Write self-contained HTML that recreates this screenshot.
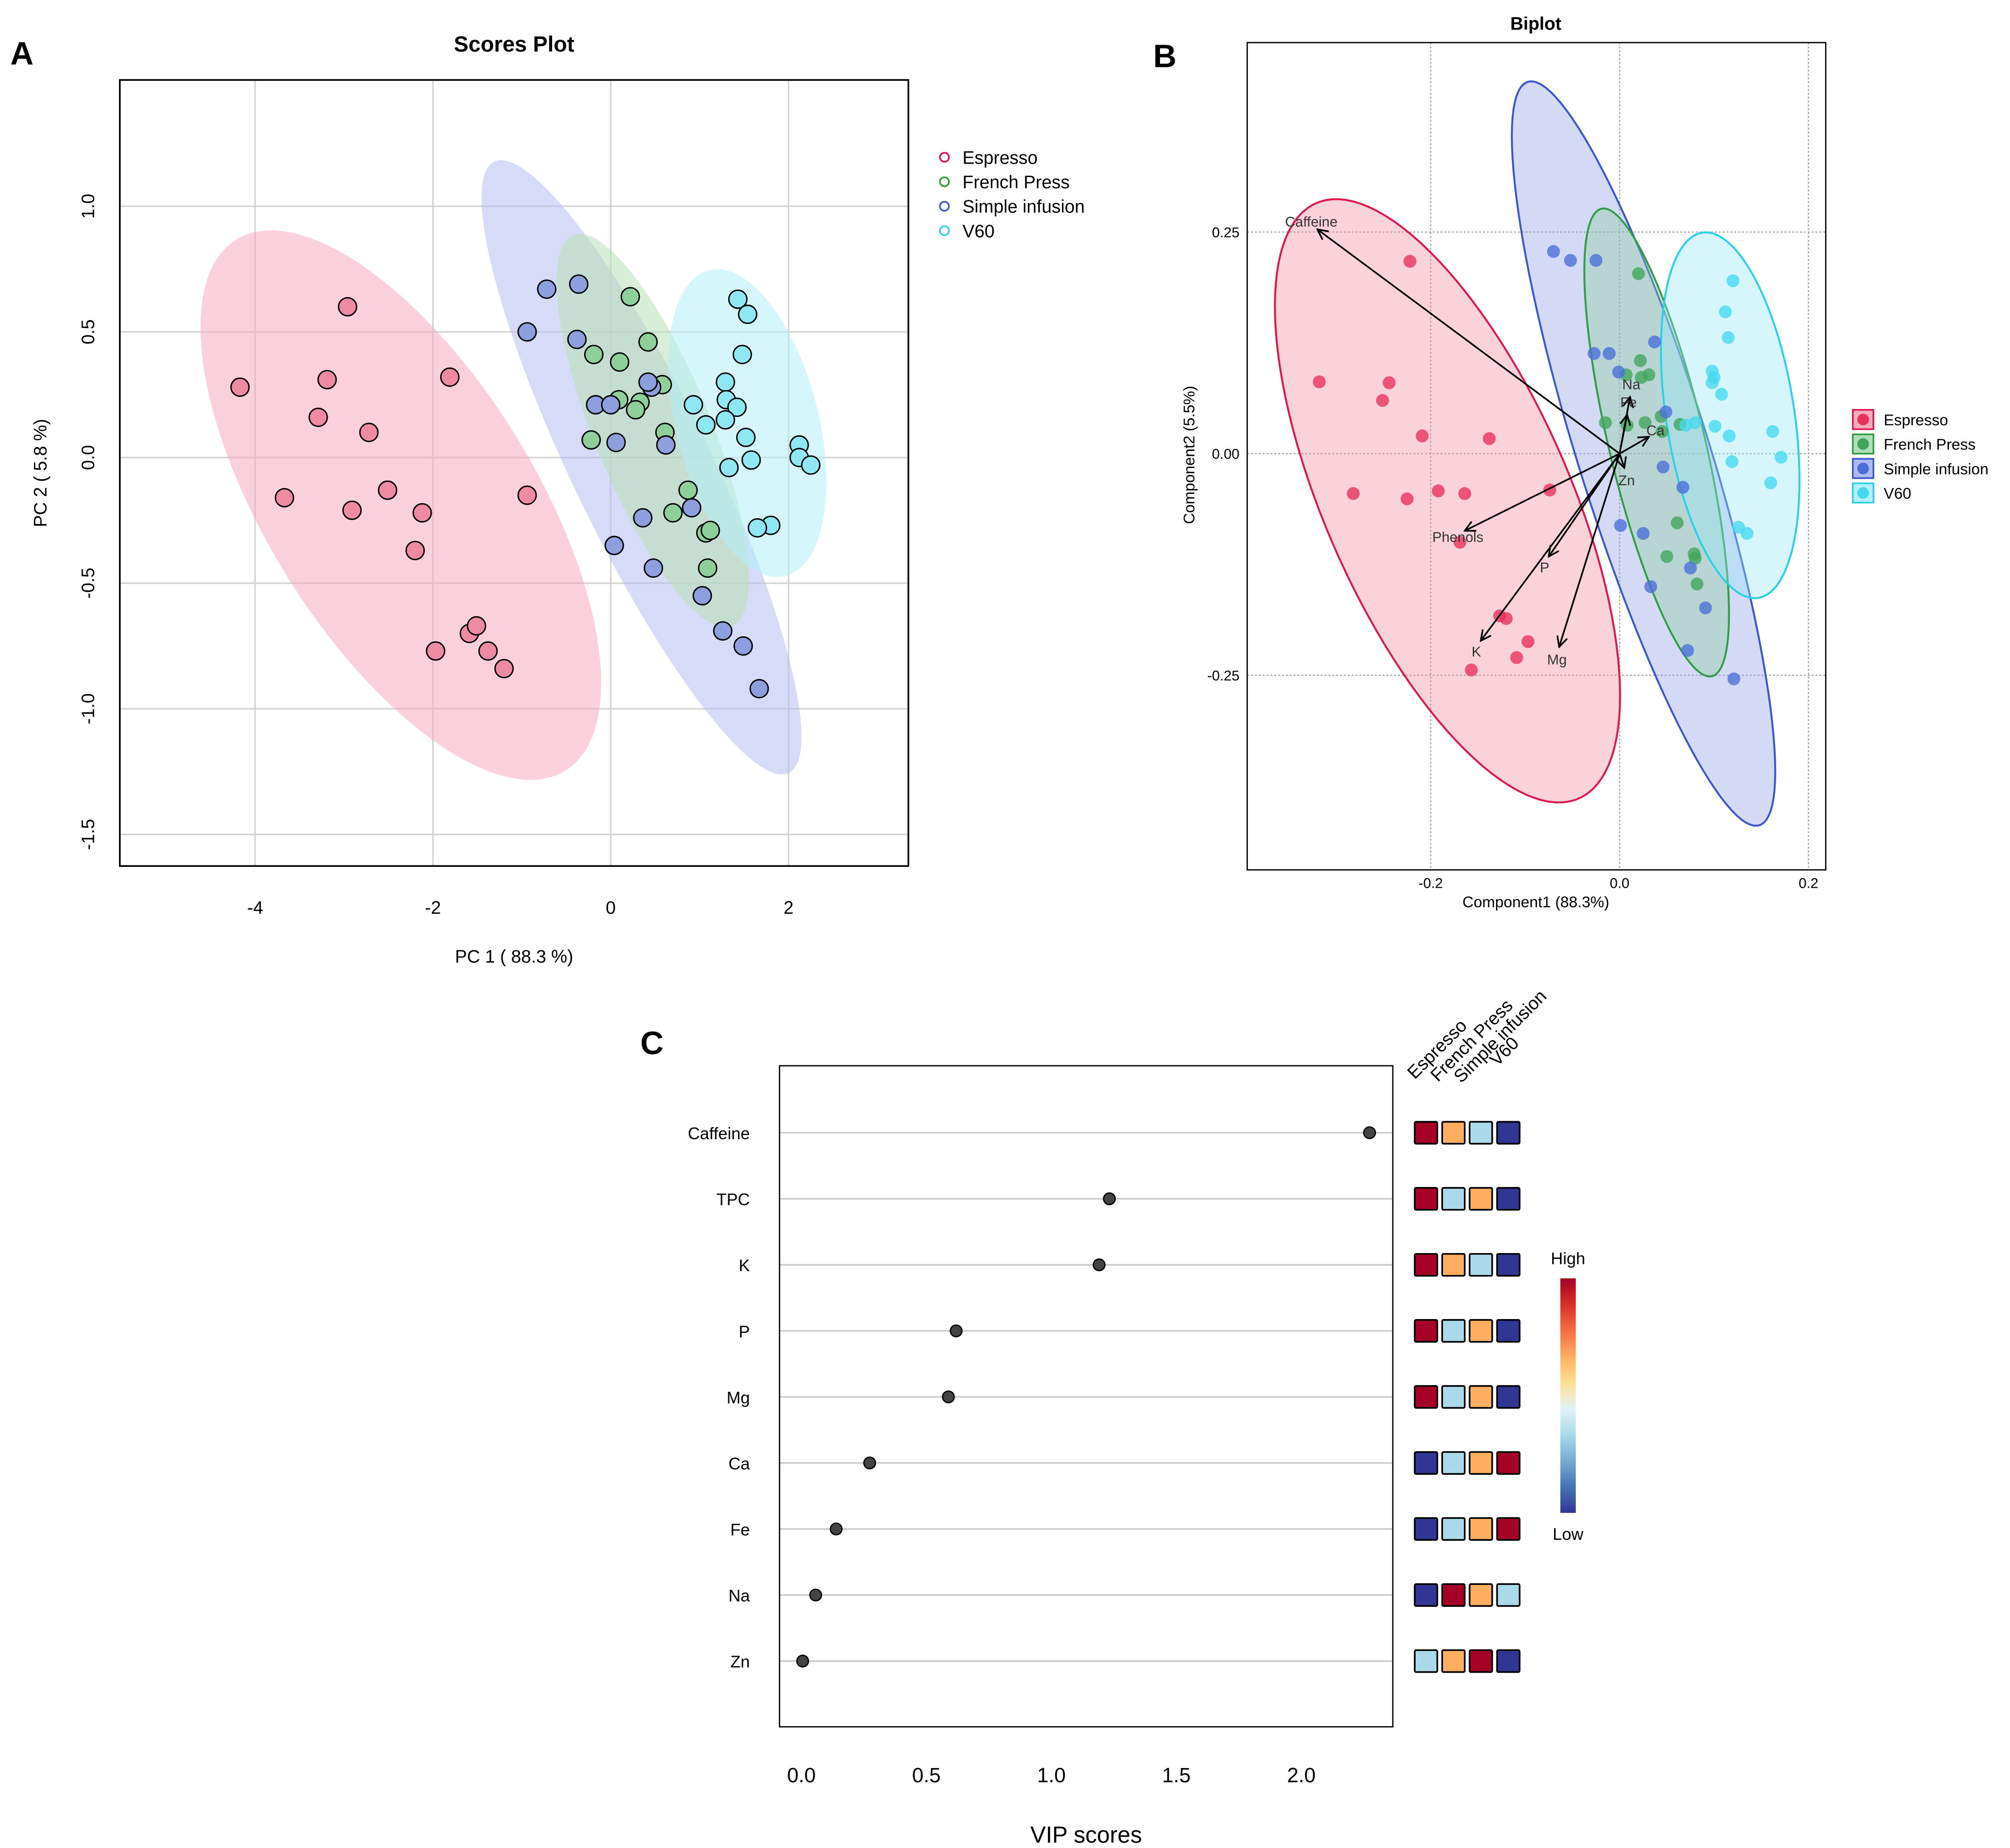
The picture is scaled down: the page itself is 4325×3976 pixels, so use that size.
<!DOCTYPE html>
<html><head><meta charset="utf-8"><style>
html,body{margin:0;padding:0;background:#fff;}
svg{display:block;font-family:"Liberation Sans",sans-serif;}
</style></head><body>
<svg id="fig" width="4325" height="3976" viewBox="0 0 1560 1434" xmlns="http://www.w3.org/2000/svg">
<rect x="0" y="0" width="1560" height="1434" fill="#fff"/>
<g id="pa"></g>
<g id="pb"></g>
<g id="pc"></g>
</svg>
<script>
// ---------- Panel A data ----------
const groups = ["Espresso","French Press","Simple infusion","V60"];
const aEspX = [-4.17,-3.19,-3.29,-2.96,-2.72,-3.67,-2.91,-2.51,-2.12,-2.20,-1.81,-0.94,-1.97,-1.59,-1.51,-1.38,-1.20];
const aEspY = [0.28,0.31,0.16,0.60,0.10,-0.16,-0.21,-0.13,-0.22,-0.37,0.32,-0.15,-0.77,-0.70,-0.67,-0.77,-0.84];
const aFrX = [0.22,-0.19,0.42,0.10,0.58,0.09,0.33,0.28,0.61,-0.22,0.87,0.70,1.07,1.12,1.09];
const aFrY = [0.64,0.41,0.46,0.38,0.29,0.23,0.22,0.19,0.10,0.07,-0.13,-0.22,-0.30,-0.29,-0.44];
const aSiX = [-0.72,-0.36,-0.94,-0.38,-0.17,0.0,0.46,0.42,0.06,0.62,0.36,0.91,0.04,0.48,1.03,1.26,1.49,1.67];
const aSiY = [0.67,0.69,0.50,0.47,0.21,0.21,0.28,0.30,0.06,0.05,-0.24,-0.20,-0.35,-0.44,-0.55,-0.69,-0.75,-0.92];
const aV6X = [1.43,1.54,1.48,1.29,1.30,1.42,1.07,1.29,0.93,1.52,1.58,1.33,2.12,2.12,2.25,1.80,1.65];
const aV6Y = [0.63,0.57,0.41,0.30,0.23,0.20,0.13,0.15,0.21,0.08,-0.01,-0.04,0.05,0.0,-0.03,-0.27,-0.28];
const aXTicks = [-4,-2,0,2];
const aYTicks = [-1.5,-1.0,-0.5,0.0,0.5,1.0];
// ---------- Panel B data ----------
const bEspX = [-0.222,-0.318,-0.244,-0.251,-0.209,-0.138,-0.282,-0.225,-0.192,-0.164,-0.074,-0.169,-0.127,-0.120,-0.097,-0.109,-0.157];
const bEspY = [0.217,0.081,0.080,0.060,0.020,0.017,-0.045,-0.051,-0.042,-0.045,-0.041,-0.100,-0.183,-0.186,-0.212,-0.230,-0.244];
const bFrX = [0.020,0.022,0.007,0.031,0.023,0.044,-0.015,0.008,0.027,0.045,0.064,0.061,0.050,0.079,0.080,0.082];
const bFrY = [0.203,0.105,0.089,0.089,0.086,0.042,0.035,0.032,0.035,0.025,0.033,-0.078,-0.116,-0.113,-0.118,-0.147];
const bSiX = [-0.070,-0.052,-0.025,-0.027,-0.011,-0.001,0.037,0.049,0.046,0.067,0.001,0.025,0.075,0.033,0.091,0.072,0.121];
const bSiY = [0.228,0.218,0.218,0.113,0.113,0.092,0.126,0.047,-0.015,-0.038,-0.081,-0.090,-0.129,-0.150,-0.174,-0.222,-0.254];
const bV6X = [0.120,0.112,0.115,0.098,0.100,0.098,0.108,0.080,0.070,0.101,0.116,0.162,0.171,0.119,0.160,0.126,0.135];
const bV6Y = [0.195,0.160,0.131,0.093,0.086,0.080,0.067,0.035,0.032,0.031,0.020,0.025,-0.004,-0.009,-0.033,-0.083,-0.090];
const loadNames = ["Caffeine","Phenols","K","Mg","P","Na","Fe","Ca","Zn"];
const loadX = [-0.320,-0.164,-0.147,-0.064,-0.075,0.011,0.008,0.031,0.005];
const loadY = [0.253,-0.087,-0.211,-0.218,-0.116,0.064,0.044,0.019,-0.016];
const bXTicks = [-0.2,0.0,0.2];
const bYTicks = [-0.25,0.00,0.25];
const bXLabels = ["-0.2","0.0","0.2"];
const bYLabels = ["-0.25","0.00","0.25"];
// ---------- Panel C data ----------
const vipVars = ["Caffeine","TPC","K","P","Mg","Ca","Fe","Na","Zn"];
const vipVals = [2.273,1.232,1.191,0.619,0.588,0.273,0.139,0.057,0.005];
// heat level per group (3=high ... 0=low), order Espresso, French Press, Simple infusion, V60
const heatEsp = [3,3,3,3,3,0,0,0,1];
const heatFr  = [2,1,2,1,1,1,1,3,2];
const heatSi  = [1,2,1,2,2,2,2,2,3];
const heatV6  = [0,0,0,0,0,3,3,1,0];
const vipTicks = [0.0,0.5,1.0,1.5,2.0];

const NS="http://www.w3.org/2000/svg";
function mk(parent,tag,attrs,text){const e=document.createElementNS(NS,tag);for(const k in attrs)e.setAttribute(k,attrs[k]);if(text!==undefined)e.textContent=text;parent.appendChild(e);return e;}
function ellipsePath(xs,ys,sx,sy,k){
  const n=xs.length;let mx=0,my=0;for(let i=0;i<n;i++){mx+=xs[i];my+=ys[i];}mx/=n;my/=n;
  let a=0,b=0,c=0;for(let i=0;i<n;i++){const dx=xs[i]-mx,dy=ys[i]-my;a+=dx*dx;b+=dx*dy;c+=dy*dy;}
  a/=(n-1);b/=(n-1);c/=(n-1);
  const l11=Math.sqrt(a),l21=b/l11,l22=Math.sqrt(Math.max(c-l21*l21,1e-12));
  let d="";for(let i=0;i<=120;i++){const t=i/120*2*Math.PI;const u=Math.cos(t),v=Math.sin(t);
    const x=mx+k*l11*u,y=my+k*(l21*u+l22*v);d+=(i?"L":"M")+sx(x).toFixed(2)+","+sy(y).toFixed(2);}
  return d+"Z";
}
// ===== Panel A =====
(function(){
  const g=document.getElementById('pa');
  const sx=v=>474+v*69, sy=v=>355-v*195;
  const L=93,R=705,T=62,B=672;
  for(const t of aXTicks){const l=mk(g,'line',{x1:sx(t),x2:sx(t),y1:T,y2:B,stroke:'#d3d3d3','stroke-width':1.2});
    }
  for(const t of aYTicks){const l=mk(g,'line',{x1:L,x2:R,y1:sy(t),y2:sy(t),stroke:'#d3d3d3','stroke-width':1.2});
    }
  const ex=[aEspX,aFrX,aSiX,aV6X], ey=[aEspY,aFrY,aSiY,aV6Y];
  const efill=['#f4a9bd','#b9e0b4','#b4bdf0','#b2eef5'];
  const pfill=['#ef8aa4','#8fcf99','#8e9fe0','#8ee8f3'];
  const draw=[2,0,1,3];
  for(const i of draw){const p=mk(g,'path',{d:ellipsePath(ex[i],ey[i],sx,sy,2.45),fill:efill[i],'fill-opacity':0.55,stroke:'none'});
    }
  for(let i=0;i<4;i++){for(let j=0;j<ex[i].length;j++){const c=mk(g,'circle',{cx:sx(ex[i][j]),cy:sy(ey[i][j]),r:7,fill:pfill[i],stroke:'#000','stroke-width':1.1});
    }}
  mk(g,'rect',{x:L,y:T,width:R-L,height:B-T,fill:'none',stroke:'#000','stroke-width':1.3,});
  for(const t of aXTicks){const tx=mk(g,'text',{x:sx(t),y:709,'font-size':14,'text-anchor':'middle'},String(t));
    }
  for(const t of aYTicks){const y=sy(t);const tx=mk(g,'text',{x:0,y:0,'font-size':14,'text-anchor':'middle',transform:`translate(73,${y}) rotate(-90)`},t.toFixed(1));
    }
  mk(g,'text',{x:399,y:40,'font-size':17,'font-weight':'bold','text-anchor':'middle',},'Scores Plot');
  mk(g,'text',{x:8,y:50,'font-size':25,'font-weight':'bold',},'A');
  mk(g,'text',{x:399,y:747,'font-size':14,'text-anchor':'middle',},'PC 1 ( 88.3 %)');
  mk(g,'text',{x:0,y:0,'font-size':14,'text-anchor':'middle',transform:'translate(36,367) rotate(-90)',},'PC 2 ( 5.8 %)');
  const lc=['#e3124f','#2ca02c','#3a56c8','#2fd3e6'];
  for(let i=0;i<4;i++){const y=122+i*19;
    const c=mk(g,'circle',{cx:733,cy:y,r:3.5,fill:'none',stroke:lc[i],'stroke-width':1.3});
    
    const t=mk(g,'text',{x:747,y:y+5,'font-size':14},groups[i]);
    }
})();
// ===== Panel B =====
(function(){
  const g=document.getElementById('pb');
  const sx=v=>1257+v*733, sy=v=>352-v*688;
  const L=968,R=1417,T=33,B=675;
  for(const t of bXTicks){const l=mk(g,'line',{x1:sx(t),x2:sx(t),y1:T,y2:B,stroke:'#aaa','stroke-width':1,'stroke-dasharray':'1.5,1.5'});
    }
  for(const t of bYTicks){const l=mk(g,'line',{x1:L,x2:R,y1:sy(t),y2:sy(t),stroke:'#aaa','stroke-width':1,'stroke-dasharray':'1.5,1.5'});
    }
  const ex=[bEspX,bFrX,bSiX,bV6X], ey=[bEspY,bFrY,bSiY,bV6Y];
  const col=['#e0174f','#2f9e44','#3a56d0','#2ccfea'];
  const efill=['#f0899f','#8fd09a','#8d9ce8','#94e7f6'];
  const pcol=['#e8305a','#3fa55a','#4a6ed8','#45d8f0'];
  const draw=[2,0,1,3];
  for(const i of draw){const p=mk(g,'path',{d:ellipsePath(ex[i],ey[i],sx,sy,2.66),fill:efill[i],'fill-opacity':0.38,stroke:col[i],'stroke-width':1.5});
    }
  for(let i=0;i<4;i++){for(let j=0;j<ex[i].length;j++){const c=mk(g,'circle',{cx:sx(ex[i][j]),cy:sy(ey[i][j]),r:5,fill:pcol[i],'fill-opacity':0.78});
    }}
  const defs=mk(g,'defs',{});
  const m=mk(defs,'marker',{id:'arr',markerWidth:10,markerHeight:10,refX:9,refY:5,orient:'auto',markerUnits:'userSpaceOnUse'});
  mk(m,'path',{d:'M1,1 L9,5 L1,9',fill:'none',stroke:'#000','stroke-width':1.3});
  for(let i=0;i<loadNames.length;i++){const x=sx(loadX[i]),y=sy(loadY[i]);
    const l=mk(g,'line',{x1:sx(0),y1:sy(0),x2:x,y2:y,stroke:'#000','stroke-width':1.3,'marker-end':'url(#arr)'});
    
    const dx=loadX[i],dy=loadY[i];const len=Math.hypot(dx,dy)||1;
    const t=mk(g,'text',{x:x+(dx/len)*6,y:y-(dy/len)*10+4,'font-size':11,fill:'#333','text-anchor':'middle'},loadNames[i]);
    }
  mk(g,'rect',{x:L,y:T,width:R-L,height:B-T,fill:'none',stroke:'#000','stroke-width':1,});
  for(let i=0;i<bXTicks.length;i++){const t=mk(g,'text',{x:sx(bXTicks[i]),y:689,'font-size':11,'text-anchor':'middle'},bXLabels[i]);
    }
  for(let i=0;i<bYTicks.length;i++){const t=mk(g,'text',{x:962,y:sy(bYTicks[i])+4,'font-size':11,'text-anchor':'end'},bYLabels[i]);
    }
  mk(g,'text',{x:1192,y:23,'font-size':14,'font-weight':'bold','text-anchor':'middle',},'Biplot');
  mk(g,'text',{x:895,y:52,'font-size':25,'font-weight':'bold',},'B');
  mk(g,'text',{x:1192,y:704,'font-size':12,'text-anchor':'middle',},'Component1 (88.3%)');
  mk(g,'text',{x:0,y:0,'font-size':12,'text-anchor':'middle',transform:'translate(927,353) rotate(-90)',},'Component2 (5.5%)');
  for(let i=0;i<4;i++){const y=318+i*19;
    const r=mk(g,'rect',{x:1438,y:y,width:16,height:15,fill:efill[i],'fill-opacity':0.7,stroke:col[i],'stroke-width':1.3});
    
    mk(g,'circle',{cx:1446,cy:y+7.5,r:4.5,fill:pcol[i],});
    const t=mk(g,'text',{x:1462,y:y+12,'font-size':12},groups[i]);
    }
})();
// ===== Panel C =====
(function(){
  const g=document.getElementById('pc');
  const sx=v=>622+v*194; const rowY=i=>879+i*51.25;
  const L=605,R=1081,T=827,B=1340;
  for(let i=0;i<vipVars.length;i++){const y=rowY(i);
    const l=mk(g,'line',{x1:L,x2:R,y1:y,y2:y,stroke:'#c8c8c8','stroke-width':1.2});
    
    const t=mk(g,'text',{x:582,y:y+5,'font-size':13,'text-anchor':'end'},vipVars[i]);
    }
  for(let i=0;i<vipVars.length;i++){const c=mk(g,'circle',{cx:sx(vipVals[i]),cy:rowY(i),r:4.5,fill:'#444',stroke:'#000','stroke-width':1});
    }
  mk(g,'rect',{x:L,y:T,width:R-L,height:B-T,fill:'none',stroke:'#000','stroke-width':1,});
  for(const t of vipTicks){const tx=mk(g,'text',{x:sx(t),y:1383,'font-size':16,'text-anchor':'middle'},t.toFixed(1));
    }
  mk(g,'text',{x:843,y:1430,'font-size':18,'text-anchor':'middle',},'VIP scores');
  mk(g,'text',{x:497,y:818,'font-size':25,'font-weight':'bold',},'C');
  const hc=['#313695','#abd9e9','#fdae61','#a50026'];
  const heat=[heatEsp,heatFr,heatSi,heatV6];
  for(let gi=0;gi<4;gi++){for(let i=0;i<vipVars.length;i++){
    const r=mk(g,'rect',{x:1098+gi*21.3,y:rowY(i)-8.5,width:17.5,height:17,fill:hc[heat[gi][i]],stroke:'#000','stroke-width':1.3,rx:1});
    }}
  const hx=[1098,1116,1134,1162], hy=[838,840,841,828];
  for(let gi=0;gi<4;gi++){const t=mk(g,'text',{x:0,y:0,'font-size':14,transform:`translate(${hx[gi]},${hy[gi]}) rotate(-45)`},groups[gi]);
    }
  const defs=mk(g,'defs',{});
  const lg=mk(defs,'linearGradient',{id:'cb',x1:0,y1:0,x2:0,y2:1});
  const stops=['#a50026','#d73027','#f46d43','#fdae61','#fee090','#e0f3f8','#abd9e9','#74add1','#4575b4','#313695'];
  stops.forEach((c,i)=>mk(lg,'stop',{offset:(i/(stops.length-1)),'stop-color':c}));
  mk(g,'rect',{x:1211,y:992,width:12,height:182,fill:'url(#cb)',});
  mk(g,'text',{x:1217,y:981,'font-size':13,'text-anchor':'middle',},'High');
  mk(g,'text',{x:1217,y:1195,'font-size':13,'text-anchor':'middle',},'Low');
})();
</script>
</body></html>
